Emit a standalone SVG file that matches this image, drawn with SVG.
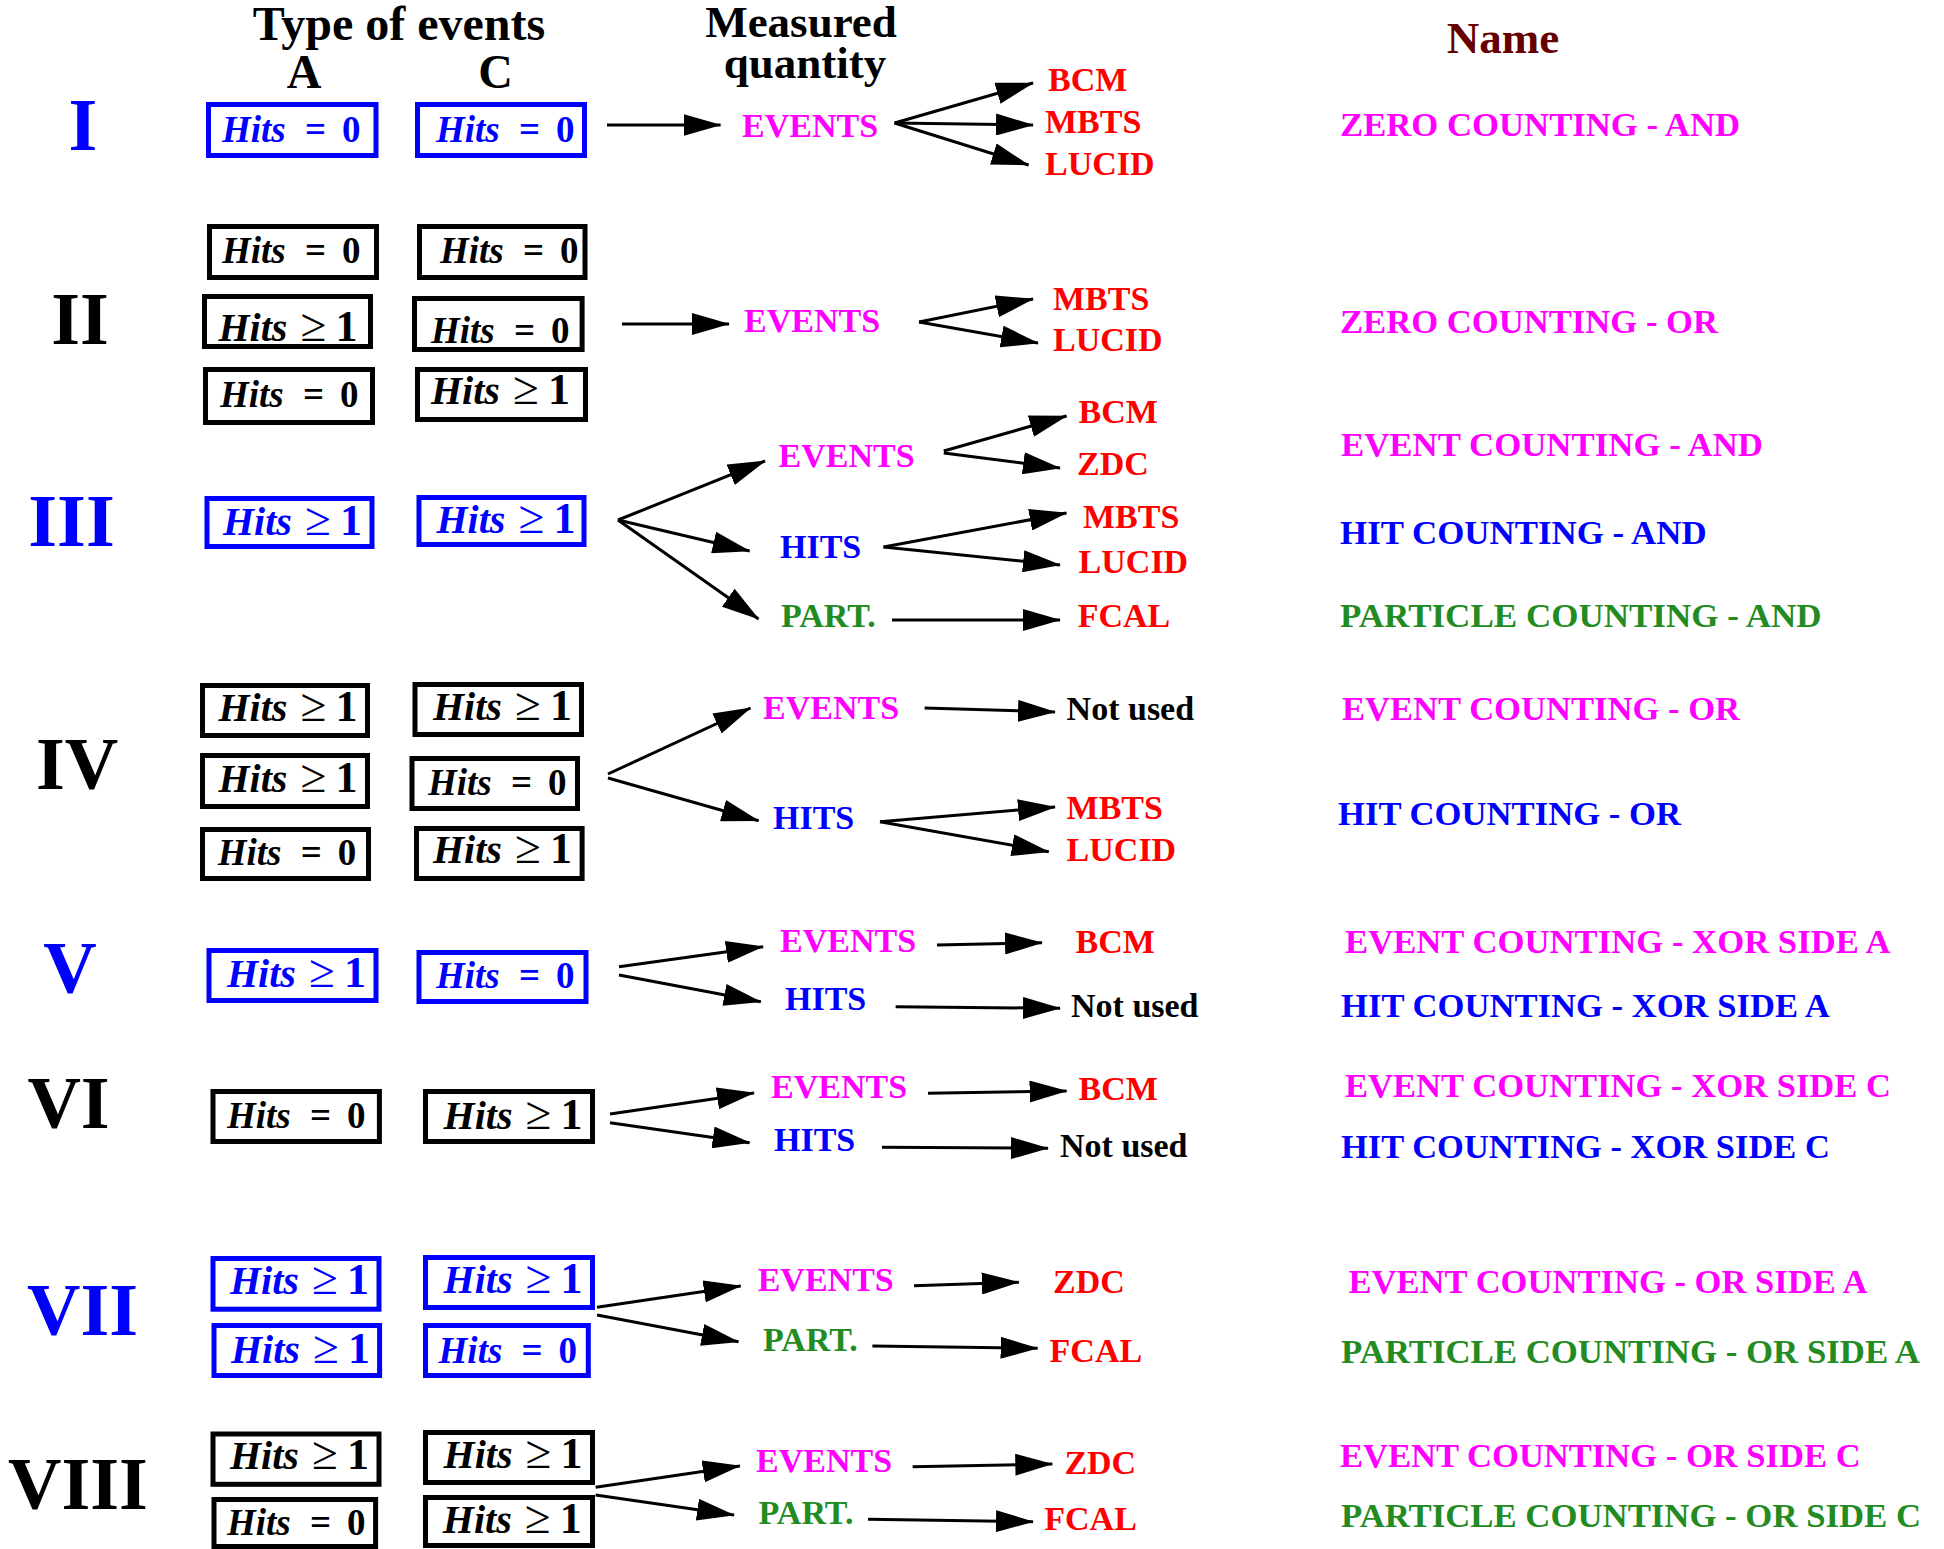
<svg xmlns="http://www.w3.org/2000/svg" width="1944" height="1549" viewBox="0 0 1944 1549">
<style>
text{font-family:"Liberation Serif","Times New Roman",serif;font-weight:bold}
.hdr{font-size:48px;fill:#000}
.hdr2{font-size:45px;fill:#000}
.rom{font-size:74px;text-anchor:middle}
.q{font-size:34px}
.nm{font-size:34.5px}
.mag{fill:#ff00ff}
.blu{fill:#0000ff}
.red{fill:#ff0000}
.grn{fill:#228b22}
.blk{fill:#000}
.bb rect{fill:none;stroke:#0000ff;stroke-width:5}
.kb rect{fill:none;stroke:#000;stroke-width:5}
.bb text{fill:#0000ff}
.kb text{fill:#000}
.hi{font-style:italic;font-size:37px}
.hi2{font-style:italic;font-size:40px}
.op{font-size:37px}
.ge{font-size:47px;font-weight:normal}
.one{font-size:44px}
#connectors path{fill:none;stroke:#000;stroke-width:3;marker-end:url(#ah)}
</style>
<defs>
<marker id="ah" markerUnits="userSpaceOnUse" markerWidth="38" markerHeight="22" refX="37" refY="11" orient="auto">
<path d="M0,0 L38,11 L0,22 z" fill="#000"/>
</marker>
</defs>
<rect x="0" y="0" width="1944" height="1549" fill="#fff"/>

<g id="headers">
<text class="hdr" x="399" y="40" text-anchor="middle">Type of events</text>
<text class="hdr" x="304" y="88" text-anchor="middle">A</text>
<text class="hdr" x="495.5" y="88" text-anchor="middle">C</text>
<text class="hdr2" x="801" y="37" text-anchor="middle">Measured</text>
<text class="hdr2" x="805" y="78" text-anchor="middle">quantity</text>
<text class="hdr2" x="1503" y="53" text-anchor="middle" style="fill:#660000">Name</text>
</g>

<g id="numerals">
<text class="rom blu" x="83" y="150">I</text>
<text class="rom blk" x="80" y="344">II</text>
<text class="rom blu" x="71.5" y="546">III</text>
<text class="rom blk" x="77" y="789">IV</text>
<text class="rom blu" x="70" y="993">V</text>
<text class="rom blk" x="68.5" y="1128">VI</text>
<text class="rom blu" x="82.5" y="1335">VII</text>
<text class="rom blk" x="78" y="1509">VIII</text>
</g>

<!-- Row I -->
<g id="box-I-A" class="bb"><rect x="208.5" y="104.5" width="167.5" height="51"/><text y="142"><tspan class="hi" x="222">Hits</tspan><tspan class="op" x="305">=</tspan><tspan class="op" x="342">0</tspan></text></g>
<g id="box-I-C" class="bb"><rect x="417.5" y="104.5" width="167" height="51"/><text y="142"><tspan class="hi" x="436">Hits</tspan><tspan class="op" x="519">=</tspan><tspan class="op" x="556">0</tspan></text></g>

<!-- Row II -->
<g id="box-II-1A" class="kb"><rect x="209.5" y="226.5" width="167" height="51"/><text y="263"><tspan class="hi" x="222">Hits</tspan><tspan class="op" x="305">=</tspan><tspan class="op" x="342">0</tspan></text></g>
<g id="box-II-1C" class="kb"><rect x="419.5" y="226.5" width="165.5" height="51"/><text y="263"><tspan class="hi" x="440">Hits</tspan><tspan class="op" x="523">=</tspan><tspan class="op" x="560">0</tspan></text></g>
<g id="box-II-2A" class="kb"><rect x="204.5" y="296.5" width="166" height="50"/><text y="341"><tspan class="hi2" x="218.5">Hits</tspan><tspan class="ge" x="300.5">≥</tspan><tspan class="one" x="335.5">1</tspan></text></g>
<g id="box-II-2C" class="kb"><rect x="414.5" y="298.5" width="167.6" height="51"/><text y="343"><tspan class="hi" x="431">Hits</tspan><tspan class="op" x="514">=</tspan><tspan class="op" x="551">0</tspan></text></g>
<g id="box-II-3A" class="kb"><rect x="205.5" y="369.5" width="167" height="53"/><text y="407"><tspan class="hi" x="220">Hits</tspan><tspan class="op" x="303">=</tspan><tspan class="op" x="340">0</tspan></text></g>
<g id="box-II-3C" class="kb"><rect x="417.5" y="369.5" width="168" height="50"/><text y="404"><tspan class="hi2" x="431">Hits</tspan><tspan class="ge" x="513">≥</tspan><tspan class="one" x="548">1</tspan></text></g>

<!-- Row III -->
<g id="box-III-A" class="bb"><rect x="207" y="498.5" width="165" height="48"/><text y="535"><tspan class="hi2" x="223">Hits</tspan><tspan class="ge" x="305">≥</tspan><tspan class="one" x="340">1</tspan></text></g>
<g id="box-III-C" class="bb"><rect x="419" y="497.5" width="165" height="47"/><text y="533"><tspan class="hi2" x="436.5">Hits</tspan><tspan class="ge" x="518.5">≥</tspan><tspan class="one" x="553.5">1</tspan></text></g>

<!-- Row IV -->
<g id="box-IV-1A" class="kb"><rect x="202.5" y="685.5" width="165" height="50"/><text y="721"><tspan class="hi2" x="218.5">Hits</tspan><tspan class="ge" x="300.5">≥</tspan><tspan class="one" x="335.5">1</tspan></text></g>
<g id="box-IV-1C" class="kb"><rect x="415" y="684.5" width="166.5" height="50"/><text y="720"><tspan class="hi2" x="433">Hits</tspan><tspan class="ge" x="515">≥</tspan><tspan class="one" x="550">1</tspan></text></g>
<g id="box-IV-2A" class="kb"><rect x="202.5" y="755.5" width="165" height="51"/><text y="792"><tspan class="hi2" x="218.5">Hits</tspan><tspan class="ge" x="300.5">≥</tspan><tspan class="one" x="335.5">1</tspan></text></g>
<g id="box-IV-2C" class="kb"><rect x="412" y="758.5" width="165.5" height="50"/><text y="795"><tspan class="hi" x="428">Hits</tspan><tspan class="op" x="511">=</tspan><tspan class="op" x="548">0</tspan></text></g>
<g id="box-IV-3A" class="kb"><rect x="202.5" y="829.5" width="166" height="49"/><text y="865"><tspan class="hi" x="217.7">Hits</tspan><tspan class="op" x="300.7">=</tspan><tspan class="op" x="337.7">0</tspan></text></g>
<g id="box-IV-3C" class="kb"><rect x="416.5" y="828.5" width="165.6" height="50"/><text y="863"><tspan class="hi2" x="433">Hits</tspan><tspan class="ge" x="515">≥</tspan><tspan class="one" x="550">1</tspan></text></g>

<!-- Row V -->
<g id="box-V-A" class="bb"><rect x="209" y="950.5" width="167" height="50"/><text y="987"><tspan class="hi2" x="227">Hits</tspan><tspan class="ge" x="309">≥</tspan><tspan class="one" x="344">1</tspan></text></g>
<g id="box-V-C" class="bb"><rect x="419" y="952.5" width="167" height="49"/><text y="988"><tspan class="hi" x="436">Hits</tspan><tspan class="op" x="519">=</tspan><tspan class="op" x="556">0</tspan></text></g>

<!-- Row VI -->
<g id="box-VI-A" class="kb"><rect x="213" y="1091.5" width="166.4" height="50"/><text y="1128"><tspan class="hi" x="227">Hits</tspan><tspan class="op" x="310">=</tspan><tspan class="op" x="347">0</tspan></text></g>
<g id="box-VI-C" class="kb"><rect x="425.5" y="1091.5" width="167" height="50"/><text y="1129"><tspan class="hi2" x="443.6">Hits</tspan><tspan class="ge" x="525.6">≥</tspan><tspan class="one" x="560.6">1</tspan></text></g>

<!-- Row VII -->
<g id="box-VII-1A" class="bb"><rect x="213" y="1258.5" width="166" height="50.7"/><text y="1294"><tspan class="hi2" x="230">Hits</tspan><tspan class="ge" x="312">≥</tspan><tspan class="one" x="347">1</tspan></text></g>
<g id="box-VII-1C" class="bb"><rect x="425.5" y="1257.5" width="167" height="50"/><text y="1293"><tspan class="hi2" x="443.6">Hits</tspan><tspan class="ge" x="525.6">≥</tspan><tspan class="one" x="560.6">1</tspan></text></g>
<g id="box-VII-2A" class="bb"><rect x="214" y="1325.5" width="165.6" height="50"/><text y="1362.7"><tspan class="hi2" x="231">Hits</tspan><tspan class="ge" x="313">≥</tspan><tspan class="one" x="348">1</tspan></text></g>
<g id="box-VII-2C" class="bb"><rect x="425.5" y="1325.5" width="162.8" height="50"/><text y="1362.7"><tspan class="hi" x="438.6">Hits</tspan><tspan class="op" x="521.6">=</tspan><tspan class="op" x="558.6">0</tspan></text></g>

<!-- Row VIII -->
<g id="box-VIII-1A" class="kb"><rect x="213" y="1434" width="166" height="50.3"/><text y="1469"><tspan class="hi2" x="230">Hits</tspan><tspan class="ge" x="312">≥</tspan><tspan class="one" x="347">1</tspan></text></g>
<g id="box-VIII-1C" class="kb"><rect x="425.5" y="1432.5" width="167" height="50"/><text y="1468"><tspan class="hi2" x="443.6">Hits</tspan><tspan class="ge" x="525.6">≥</tspan><tspan class="one" x="560.6">1</tspan></text></g>
<g id="box-VIII-2A" class="kb"><rect x="214" y="1499.5" width="161.6" height="47"/><text y="1535"><tspan class="hi" x="227">Hits</tspan><tspan class="op" x="310">=</tspan><tspan class="op" x="347">0</tspan></text></g>
<g id="box-VIII-2C" class="kb"><rect x="425.5" y="1497.5" width="167" height="48"/><text y="1533"><tspan class="hi2" x="442.8">Hits</tspan><tspan class="ge" x="524.8">≥</tspan><tspan class="one" x="559.8">1</tspan></text></g>

<g id="quantities">
<text class="q mag" x="742" y="137">EVENTS</text>
<text class="q mag" x="744" y="332">EVENTS</text>
<text class="q mag" x="778.6" y="467">EVENTS</text>
<text class="q blu" x="780" y="558">HITS</text>
<text class="q grn" x="781" y="627">PART.</text>
<text class="q mag" x="763" y="719">EVENTS</text>
<text class="q blu" x="773" y="829">HITS</text>
<text class="q mag" x="780" y="951.7">EVENTS</text>
<text class="q blu" x="785" y="1010">HITS</text>
<text class="q mag" x="771" y="1098">EVENTS</text>
<text class="q blu" x="774" y="1150.7">HITS</text>
<text class="q mag" x="757.7" y="1290.7">EVENTS</text>
<text class="q grn" x="763" y="1350.7">PART.</text>
<text class="q mag" x="756" y="1471.7">EVENTS</text>
<text class="q grn" x="758.6" y="1524">PART.</text>
</g>

<g id="detectors">
<text class="q red" x="1048" y="91">BCM</text>
<text class="q red" x="1045" y="133">MBTS</text>
<text class="q red" x="1045" y="175">LUCID</text>
<text class="q red" x="1053" y="310">MBTS</text>
<text class="q red" x="1053" y="351">LUCID</text>
<text class="q red" x="1078.6" y="423">BCM</text>
<text class="q red" x="1077" y="475">ZDC</text>
<text class="q red" x="1083" y="528">MBTS</text>
<text class="q red" x="1078.6" y="573">LUCID</text>
<text class="q red" x="1077.7" y="627">FCAL</text>
<text class="q blk" x="1066.6" y="720">Not used</text>
<text class="q red" x="1066.6" y="819">MBTS</text>
<text class="q red" x="1066.6" y="860.7">LUCID</text>
<text class="q red" x="1075.5" y="952.7">BCM</text>
<text class="q blk" x="1071" y="1016.7">Not used</text>
<text class="q red" x="1078.6" y="1100">BCM</text>
<text class="q blk" x="1060" y="1156.7">Not used</text>
<text class="q red" x="1053" y="1292.7">ZDC</text>
<text class="q red" x="1049.6" y="1361.7">FCAL</text>
<text class="q red" x="1064.4" y="1474">ZDC</text>
<text class="q red" x="1044.3" y="1530">FCAL</text>
</g>

<g id="names">
<text class="nm mag" x="1340" y="136" textLength="400" lengthAdjust="spacingAndGlyphs">ZERO COUNTING - AND</text>
<text class="nm mag" x="1340" y="333" textLength="378" lengthAdjust="spacingAndGlyphs">ZERO COUNTING - OR</text>
<text class="nm mag" x="1341" y="456" textLength="422" lengthAdjust="spacingAndGlyphs">EVENT COUNTING - AND</text>
<text class="nm blu" x="1340" y="544" textLength="366.6" lengthAdjust="spacingAndGlyphs">HIT COUNTING - AND</text>
<text class="nm grn" x="1340" y="627" textLength="481.6" lengthAdjust="spacingAndGlyphs">PARTICLE COUNTING - AND</text>
<text class="nm mag" x="1342" y="720" textLength="398" lengthAdjust="spacingAndGlyphs">EVENT COUNTING - OR</text>
<text class="nm blu" x="1338" y="825" textLength="343" lengthAdjust="spacingAndGlyphs">HIT COUNTING - OR</text>
<text class="nm mag" x="1345" y="952.7" textLength="545.6" lengthAdjust="spacingAndGlyphs">EVENT COUNTING - XOR SIDE A</text>
<text class="nm blu" x="1341" y="1017" textLength="488.8" lengthAdjust="spacingAndGlyphs">HIT COUNTING - XOR SIDE A</text>
<text class="nm mag" x="1345" y="1097" textLength="546" lengthAdjust="spacingAndGlyphs">EVENT COUNTING - XOR SIDE C</text>
<text class="nm blu" x="1341" y="1157.5" textLength="488.8" lengthAdjust="spacingAndGlyphs">HIT COUNTING - XOR SIDE C</text>
<text class="nm mag" x="1348.5" y="1293" textLength="519" lengthAdjust="spacingAndGlyphs">EVENT COUNTING - OR SIDE A</text>
<text class="nm grn" x="1341" y="1362.7" textLength="579" lengthAdjust="spacingAndGlyphs">PARTICLE COUNTING - OR SIDE A</text>
<text class="nm mag" x="1340" y="1467" textLength="520.6" lengthAdjust="spacingAndGlyphs">EVENT COUNTING - OR SIDE C</text>
<text class="nm grn" x="1341" y="1527" textLength="580" lengthAdjust="spacingAndGlyphs">PARTICLE COUNTING - OR SIDE C</text>
</g>

<g id="connectors">
<path d="M607,125 L720.5,125"/>
<path d="M894.6,123 L1033,83"/>
<path d="M894.6,123 L1033,125"/>
<path d="M894.6,123 L1028.6,165"/>
<path d="M622,324 L729,324"/>
<path d="M919,322 L1033,299"/>
<path d="M919,322 L1038,343"/>
<path d="M618,520 L765,461"/>
<path d="M618,520 L749.6,551"/>
<path d="M618,520 L758.5,619"/>
<path d="M943.75,451 L1066.5,416"/>
<path d="M943.75,453 L1060,468"/>
<path d="M883.5,547 L1066.5,513"/>
<path d="M883.5,547 L1060,565"/>
<path d="M892,620 L1060,620"/>
<path d="M608,774 L750.5,708"/>
<path d="M608,778 L758.6,820.7"/>
<path d="M924.6,708 L1055,712"/>
<path d="M880,821.7 L1055,807"/>
<path d="M880,821.7 L1048.75,851.7"/>
<path d="M619,966.7 L763,946.7"/>
<path d="M619,975 L760.8,1001.7"/>
<path d="M937,945 L1042,942.7"/>
<path d="M895.6,1006.7 L1060,1008.3"/>
<path d="M610,1114 L754,1093"/>
<path d="M610,1122.7 L749.6,1142.7"/>
<path d="M928,1093.3 L1066.6,1091"/>
<path d="M882,1147.3 L1048,1148.3"/>
<path d="M597,1307.3 L740.7,1286"/>
<path d="M597,1315 L738.5,1341.7"/>
<path d="M914,1285.7 L1018.8,1282.3"/>
<path d="M872.4,1346 L1037.6,1348.3"/>
<path d="M595.6,1487.3 L739.8,1466"/>
<path d="M595.6,1495 L734,1515"/>
<path d="M912.6,1466.7 L1052.3,1464"/>
<path d="M868,1519.3 L1033,1521.7"/>
</g>
</svg>
